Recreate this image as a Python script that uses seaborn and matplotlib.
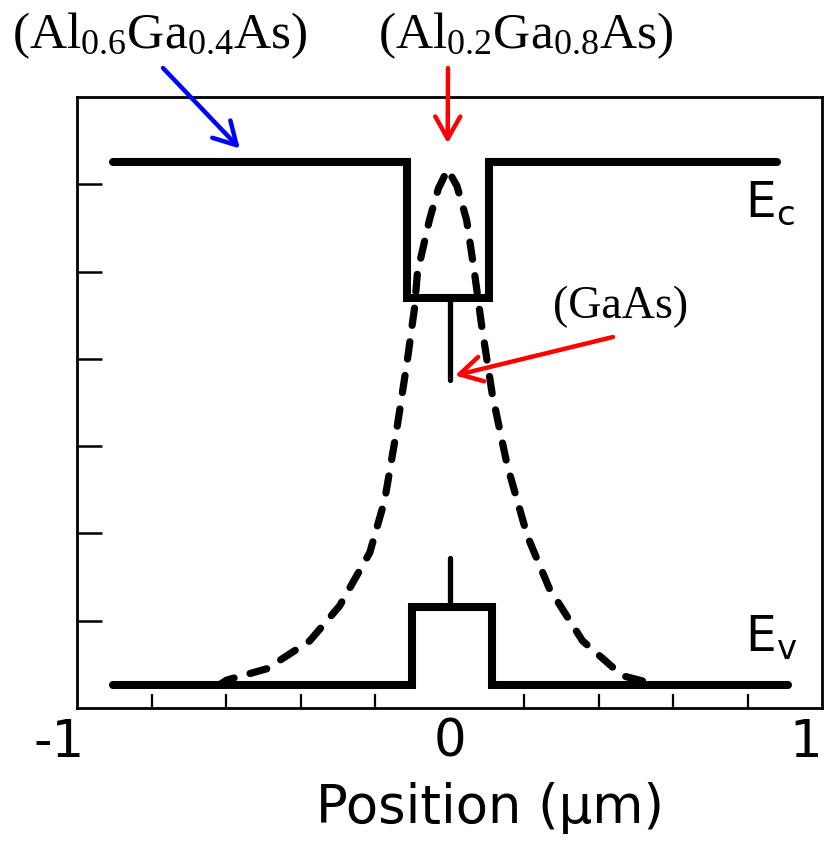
import numpy as np
import pandas as pd
import matplotlib
matplotlib.use("Agg")
import matplotlib.pyplot as plt
import matplotlib.transforms as mtransforms
import seaborn as sns
from matplotlib.ticker import FixedLocator

# --- datos (posición en µm, energía en unidades de la rejilla) ---
ec_x = [-0.903, -0.115, -0.115, 0.107, 0.107, 0.879]
ec_y = [6.25, 6.25, 4.70, 4.70, 6.25, 6.25]

ev_x = [-0.903, -0.100, -0.100, 0.113, 0.113, 0.910]
ev_y = [0.26, 0.26, 1.16, 1.16, 0.26, 0.26]

# niveles del GaAs (marcas verticales en x = 0)
gaas_c = [4.70, 3.76]
gaas_v = [1.16, 1.72]

# función de onda (línea discontinua)
wave_x = [-0.620, -0.598, -0.490, -0.375, -0.295, -0.214, -0.174, -0.142, -0.113,
          -0.094, -0.086, -0.054, -0.030, -0.005, 0.020, 0.046, 0.067, 0.086,
          0.115, 0.155, 0.209, 0.268, 0.357, 0.464, 0.563, 0.600]
wave_y = [0.26, 0.32, 0.45, 0.77, 1.17, 1.78, 2.38, 3.18, 3.99,
          4.58, 4.99, 5.59, 5.95, 6.17, 5.98, 5.59, 4.99, 4.39,
          3.59, 2.78, 1.97, 1.37, 0.77, 0.37, 0.26, 0.26]

xtick_major = [-1, 0, 1]
xtick_labels = ["-1", "0", "1"]
xtick_minor = [-0.8, -0.6, -0.4, -0.2, 0.2, 0.4, 0.6, 0.8]
ytick_major = [1, 2, 3, 4, 5, 6]

sns.set_style("white")
plt.rcParams["font.family"] = ["DejaVu Sans"]
plt.rcParams["mathtext.default"] = "regular"
for k in ["text.color", "axes.labelcolor", "xtick.color", "ytick.color"]:
    plt.rcParams[k] = "black"

W, H = 824, 842
fig = plt.figure(figsize=(W / 100, H / 100), dpi=100)
ax = fig.add_axes([77 / W, (H - 708) / H, (822 - 77) / W, 611 / H])


def px(x, y):
    # píxeles de la imagen -> fracción de figura
    return (x / W, 1 - y / H)


band = dict(color="black", lw=5.8, solid_capstyle="round", solid_joinstyle="miter")
sns.lineplot(x=ec_x, y=ec_y, sort=False, estimator=None, ax=ax, **band)
sns.lineplot(x=ev_x, y=ev_y, sort=False, estimator=None, ax=ax, **band)
sns.lineplot(x=[0, 0], y=gaas_c, sort=False, estimator=None, ax=ax, color="black", lw=3.8)
sns.lineplot(x=[0, 0], y=gaas_v, sort=False, estimator=None, ax=ax, color="black", lw=3.8)
sns.lineplot(x=wave_x, y=wave_y, sort=False, estimator=None, ax=ax, color="black",
             lw=5.2, linestyle=(0, (2.4, 2.3)), dash_capstyle="round")

ax.set_xlim(-1, 1)
ax.set_ylim(0, 7)
ax.set_xticks(xtick_major)
ax.set_xticklabels(xtick_labels)
ax.xaxis.set_minor_locator(FixedLocator(xtick_minor))
ax.set_yticks(ytick_major)
ax.set_yticklabels([])
ax.tick_params(axis="x", which="major", direction="in", length=17, width=1.6,
               labelsize=37, pad=7)
ax.tick_params(axis="x", which="minor", direction="in", length=10, width=1.6, bottom=True)
ax.tick_params(axis="y", direction="in", length=18, width=1.8, left=True)
labs = ax.get_xticklabels()
for lab, dx in [(labs[0], 8), (labs[-1], 0)]:
    lab.set_ha("right")
    lab.set_transform(lab.get_transform() +
                      mtransforms.ScaledTranslation(dx / 100, 0, fig.dpi_scale_trans))
ax.set_xlabel("Position (μm)", fontsize=38)
ax.xaxis.set_label_coords(0.555, -0.121)
for s in ax.spines.values():
    s.set_color("black")
    s.set_linewidth(2)

# etiquetas de banda
fig.text(*px(745, 217), "E$_c$", fontsize=35, ha="left", va="baseline")
fig.text(*px(745, 652), "E$_v$", fontsize=35, ha="left", va="baseline")

# anotaciones de composición
serif = dict(family="Liberation Serif", fontsize=37, ha="left", va="baseline")
fig.text(*px(12, 48), "(Al$_{0.6}$Ga$_{0.4}$As)", **serif)
fig.text(*px(378, 48), "(Al$_{0.2}$Ga$_{0.8}$As)", **serif)
fig.text(*px(553, 318), "(GaAs)", family="Liberation Serif", fontsize=33,
         ha="left", va="baseline")

arrow = dict(arrowstyle="->,head_length=0.8,head_width=0.45", lw=3.2,
             shrinkA=0, shrinkB=0, mutation_scale=20)
ax.annotate("", xy=(-0.563, 6.41), xytext=px(163, 68), textcoords="figure fraction",
            arrowprops=dict(color="#0000ff", **arrow), annotation_clip=False)
ax.annotate("", xy=(-0.005, 6.47), xytext=px(448, 68), textcoords="figure fraction",
            arrowprops=dict(color="#ff0000", **arrow), annotation_clip=False)
ax.annotate("", xy=(0.015, 3.81), xytext=px(613, 337), textcoords="figure fraction",
            arrowprops=dict(color="#ff0000", **arrow), annotation_clip=False)

fig.savefig("out.png", dpi=100)
